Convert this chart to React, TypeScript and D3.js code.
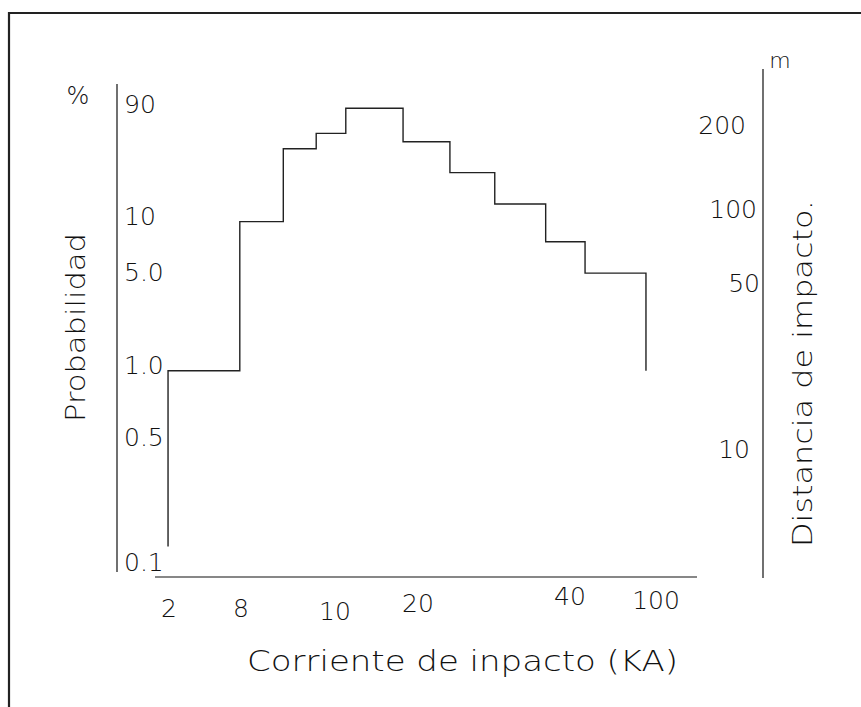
import React from "react";
import * as d3 from "d3";

// ---- data ----
const probTicks = [0.1, 0.5, 1, 5, 10, 90];
const probTickLabels = ["0.1", "0.5", "1.0", "5.0", "10", "90"];
const currentTicks = [2, 8, 10, 20, 40, 100];
const currentTickLabels = ["2", "8", "10", "20", "40", "100"];
const distTicks = [10, 50, 100, 200];
const distTickLabels = ["10", "50", "100", "200"];

// step histogram: class edges (kA) and probability (%) of each class
const classEdges = [1.92, 7.9, 8.9, 9.6, 11.3, 18.2, 24.2, 30.1, 36.8, 50.5, 93];
const classProb = [0.96, 9.5, 58, 69, 87, 63, 41, 18.6, 7.7, 4.95];
const stepStart = 0.15;
const stepEnd = 0.96;

// ---- layout (hand-drawn, non-uniform scales) ----
const W = 861;
const H = 707;
const probRange = [562, 437, 365, 272, 216, 104];
const currentRange = [169, 241, 335, 418, 570, 656];
const distRange = [449, 283, 209, 125.5];
const currentLabelDy = [2, 2, 5, -3, -10, -6];
const distLabelGap = [13, 3, 6, 17];

const FONT = "'DejaVu Sans', sans-serif";
const INK = "#111";

export default function App() {
  const y = d3.scaleLinear().domain(probTicks).range(probRange);
  const x = d3.scaleLinear().domain(currentTicks).range(currentRange);
  const yR = d3.scaleLinear().domain(distTicks).range(distRange);

  const pts: [number, number][] = [[classEdges[0], stepStart]];
  classProb.forEach((p, i) => pts.push([classEdges[i], p]));
  pts.push([classEdges[classEdges.length - 1], stepEnd]);
  const line = d3
    .line<[number, number]>()
    .x((d) => x(d[0]))
    .y((d) => y(d[1]))
    .curve(d3.curveStepAfter);

  const leftAxisX = 117;
  const rightAxisX = 763;
  const bottomAxisY = 577;

  const textStyle = {
    fontFamily: FONT,
    fontWeight: 200 as const,
    fill: INK,
  };

  return (
    <svg
      width={W}
      height={H}
      style={{ position: "absolute", left: 0, top: 0, background: "#fff" }}
    >
      <rect x={0} y={0} width={W} height={H} fill="#fff" />
      {/* drawing frame */}
      <path d={`M9,${H + 5} L9,13 L${W + 5},13`} fill="none" stroke="#222" strokeWidth={2.2} />

      {/* left axis */}
      <line x1={leftAxisX} x2={leftAxisX} y1={84} y2={572} stroke={INK} strokeWidth={1.2} />
      {probTicks.map((t, i) => (
        <text
          key={t}
          x={leftAxisX + 7}
          y={y(t)}
          dominantBaseline="central"
          fontSize={25}
          style={textStyle}
        >
          {probTickLabels[i]}
        </text>
      ))}
      <text x={78} y={96} textAnchor="middle" dominantBaseline="central" fontSize={24} style={textStyle}>
        %
      </text>
      <text
        transform="translate(85,422) rotate(-90)"
        fontSize={26}
        textLength={189}
        lengthAdjust="spacingAndGlyphs"
        style={textStyle}
      >
        Probabilidad
      </text>

      {/* bottom axis */}
      <line x1={155} x2={697} y1={bottomAxisY} y2={bottomAxisY} stroke={INK} strokeWidth={1.2} />
      {currentTicks.map((t, i) => (
        <text
          key={t}
          x={x(t)}
          y={606 + currentLabelDy[i]}
          textAnchor="middle"
          dominantBaseline="central"
          fontSize={25}
          style={textStyle}
        >
          {currentTickLabels[i]}
        </text>
      ))}
      <text
        x={247}
        y={671}
        fontSize={28}
        textLength={431}
        lengthAdjust="spacingAndGlyphs"
        style={textStyle}
      >
        Corriente de inpacto (KA)
      </text>

      {/* right axis */}
      <line x1={rightAxisX} x2={rightAxisX} y1={69} y2={578} stroke={INK} strokeWidth={1.2} />
      {distTicks.map((t, i) => (
        <text
          key={t}
          x={rightAxisX - distLabelGap[i]}
          y={yR(t)}
          textAnchor="end"
          dominantBaseline="central"
          fontSize={25}
          style={textStyle}
        >
          {distTickLabels[i]}
        </text>
      ))}
      <text x={780} y={60} textAnchor="middle" dominantBaseline="central" fontSize={22} style={textStyle}>
        m
      </text>
      <text
        transform="translate(812,547) rotate(-90)"
        fontSize={27}
        textLength={347}
        lengthAdjust="spacingAndGlyphs"
        style={textStyle}
      >
        Distancia de impacto.
      </text>

      {/* step curve */}
      <path d={line(pts) || ""} fill="none" stroke="#222" strokeWidth={1.4} />
    </svg>
  );
}
